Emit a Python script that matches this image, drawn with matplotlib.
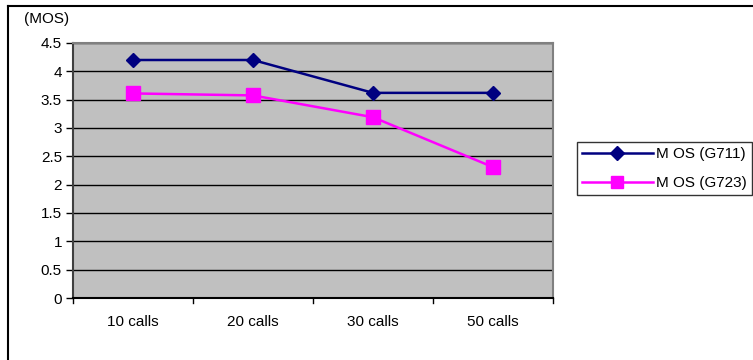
import matplotlib
matplotlib.use("Agg")
import matplotlib.pyplot as plt
from matplotlib.lines import Line2D

categories = ["10 calls", "20 calls", "30 calls", "50 calls"]
g711 = [4.2, 4.2, 3.62, 3.62]
g723 = [3.61, 3.575, 3.19, 2.31]
yticks = [0, 0.5, 1, 1.5, 2, 2.5, 3, 3.5, 4, 4.5]
ytick_labels = ["0", "0.5", "1", "1.5", "2", "2.5", "3", "3.5", "4", "4.5"]

plt.rcParams['font.family'] = ['Liberation Sans', 'DejaVu Sans']

W, H = 753, 360
fig = plt.figure(figsize=(W/100, H/100), dpi=100)
ax = fig.add_axes([73/W, 1 - 298/H, (553-73)/W, (298-43)/H])
ax.set_facecolor('#c0c0c0')

x = list(range(len(categories)))
l1, = ax.plot(x, g711, color='#000080', lw=1.8, marker='D', ms=7, mfc='#000080', mec='#000080', label='M OS (G711)', zorder=3)
l2, = ax.plot(x, g723, color='#ff00ff', lw=1.8, marker='s', ms=10, mfc='#ff00ff', mec='#ff00ff', label='M OS (G723)', zorder=3)

ax.set_xlim(-0.5, len(categories) - 0.5)
ax.set_ylim(0, 4.5)
ax.set_yticks(yticks)
ax.set_yticklabels(ytick_labels, fontsize=11)
ax.set_xticks(x)
ax.set_xticklabels(categories, fontsize=11)
ax.tick_params(axis='x', length=0, pad=12)
ax.tick_params(axis='y', length=5, width=1, color='#000000', pad=3)
# x ticks between categories
for b in [-0.5, 0.5, 1.5, 2.5, 3.5]:
    ax.plot([b, b], [0, -0.09], color='black', lw=1, clip_on=False)

ax.yaxis.grid(True, color='#000000', lw=1)
ax.set_axisbelow(True)
for s in ['top', 'right']:
    ax.spines[s].set_color('#808080')
    ax.spines[s].set_linewidth(1.5)
ax.spines['left'].set_color('#404040')
ax.spines['left'].set_linewidth(1.5)
ax.spines['bottom'].set_color('#000000')
ax.spines['bottom'].set_linewidth(1.5)

fig.text(24/W, 1 - 19/H, "(MOS)", fontsize=11, va='center', ha='left')

leg = fig.legend(handles=[l1, l2], loc='upper left', bbox_to_anchor=(577/W, 1 - 142/H),
                 frameon=True, fancybox=False, edgecolor='black', fontsize=11,
                 handlelength=4.6, borderaxespad=0, borderpad=0.35, labelspacing=0.95,
                 handletextpad=0.2)
leg.get_frame().set_linewidth(1)
for h in leg.legend_handles:
    h.set_markersize(7 if h.get_marker() == 'D' else 9)

# outer chart frame (top and left visible)
fig.add_artist(Line2D([8/W, 1], [1 - 6/H, 1 - 6/H], color='black', lw=1.5, transform=fig.transFigure))
fig.add_artist(Line2D([8/W, 8/W], [1 - 6/H, 0], color='black', lw=1.5, transform=fig.transFigure))

fig.savefig("out.png", dpi=100)
